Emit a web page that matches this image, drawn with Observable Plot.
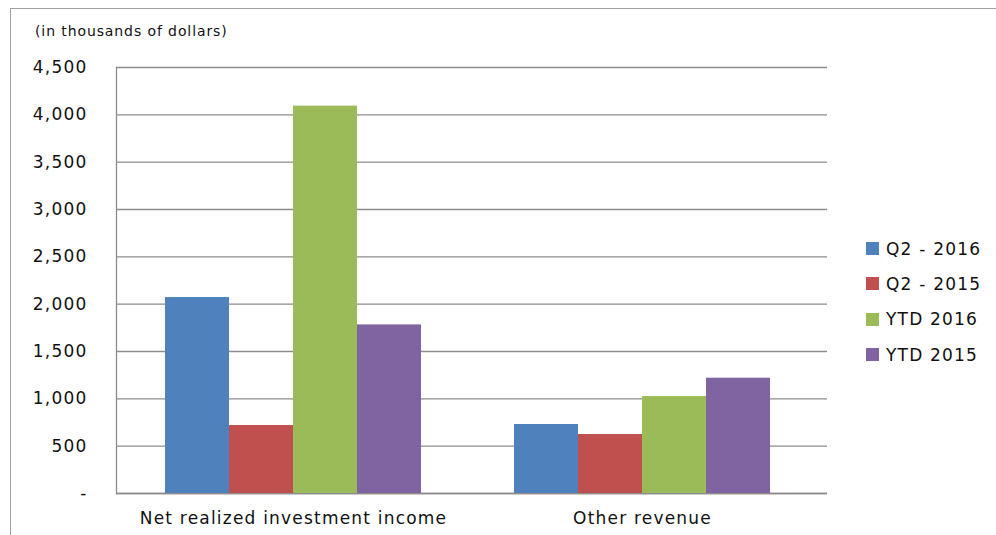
<!DOCTYPE html>
<html>
<head>
<meta charset="utf-8">
<script src="https://cdn.jsdelivr.net/npm/d3@7"></script>
<script src="https://cdn.jsdelivr.net/npm/@observablehq/plot@0.6"></script>
<style>
  html, body { margin: 0; padding: 0; background: #fff; }
  #wrap { position: relative; width: 996px; height: 535px; overflow: hidden; font-family: "DejaVu Sans", sans-serif; }
  #border { position: absolute; left: 10px; top: 8px; width: 1200px; height: 800px; border: 1.5px solid #a0a0a0; box-sizing: border-box; }
  #sub { position: absolute; left: 35px; top: 23px; font-size: 14px; letter-spacing: 0.9px; color: #111; }
  .layer { position: absolute; left: 0; top: 0; }
  #legend { position: absolute; left: 866px; top: 231px; font-size: 17px; letter-spacing: 1.2px; color: #111; }
  .row { display: flex; align-items: center; height: 35.3px; }
  .sw { width: 13px; height: 13px; margin-right: 7px; }
</style>
</head>
<body>
<div id="wrap">
  <div id="border"></div>
  <div id="back" class="layer"></div>
  <div id="front" class="layer"></div>
  <div id="sub">(in thousands of dollars)</div>
  <div id="legend"></div>
</div>
<script>
const categories = ["Net realized investment income", "Other revenue"];
const series = ["Q2 - 2016", "Q2 - 2015", "YTD 2016", "YTD 2015"];
const colors = ["#4F81BD", "#C0504D", "#9BBB59", "#8064A2"];
const q2_2016 = [2070, 729];
const q2_2015 = [718, 623];
const ytd_2016 = [4092, 1024];
const ytd_2015 = [1781, 1218];
const yTicks = [0, 500, 1000, 1500, 2000, 2500, 3000, 3500, 4000, 4500];

const seriesValues = [q2_2016, q2_2015, ytd_2016, ytd_2015];
const data = [];
categories.forEach((c, i) => {
  series.forEach((s, j) => data.push({category: c, series: s, value: seriesValues[j][i]}));
});

const common = {
  width: 996,
  height: 535,
  marginLeft: 116,
  marginRight: 169,
  marginTop: 67,
  marginBottom: 42,
  style: {fontFamily: "DejaVu Sans, sans-serif", fontSize: "17px", letterSpacing: "1.2px", background: "transparent", color: "#111"}
};
const catScale = {domain: categories, range: [118, 816], paddingInner: 0.265, paddingOuter: 0.13};
const yScale = {domain: [0, 4500], ticks: yTicks, tickFormat: d => d === 0 ? "-" : d3.format(",")(d), label: null, tickSize: 0, tickPadding: 29};

// Background: axes and gridlines
const back = Plot.plot({
  ...common,
  x: {...catScale, label: null, axis: "bottom", tickSize: 0, tickPadding: 18},
  y: yScale,
  marks: [
    Plot.ruleY(yTicks, {stroke: "#8c8c8c", strokeWidth: 1.3, strokeOpacity: 1}),
    Plot.frame({anchor: "left", stroke: "#8c8c8c", strokeWidth: 1.3}),
    Plot.ruleY([0], {stroke: "#8c8c8c", strokeWidth: 1.5})
  ]
});
document.getElementById("back").appendChild(back);

// Foreground: grouped bars
const front = Plot.plot({
  ...common,
  fx: {...catScale, label: null, axis: null},
  x: {domain: series, axis: null, padding: 0},
  y: {...yScale, axis: null},
  color: {domain: series, range: colors},
  marks: [
    Plot.barY(data, {fx: "category", x: "series", y: "value", fill: "series"})
  ]
});
document.getElementById("front").appendChild(front);

const legend = document.getElementById("legend");
series.forEach((s, i) => {
  const row = document.createElement("div");
  row.className = "row";
  row.innerHTML = `<div class="sw" style="background:${colors[i]}"></div><span>${s}</span>`;
  legend.appendChild(row);
});
</script>
</body>
</html>
